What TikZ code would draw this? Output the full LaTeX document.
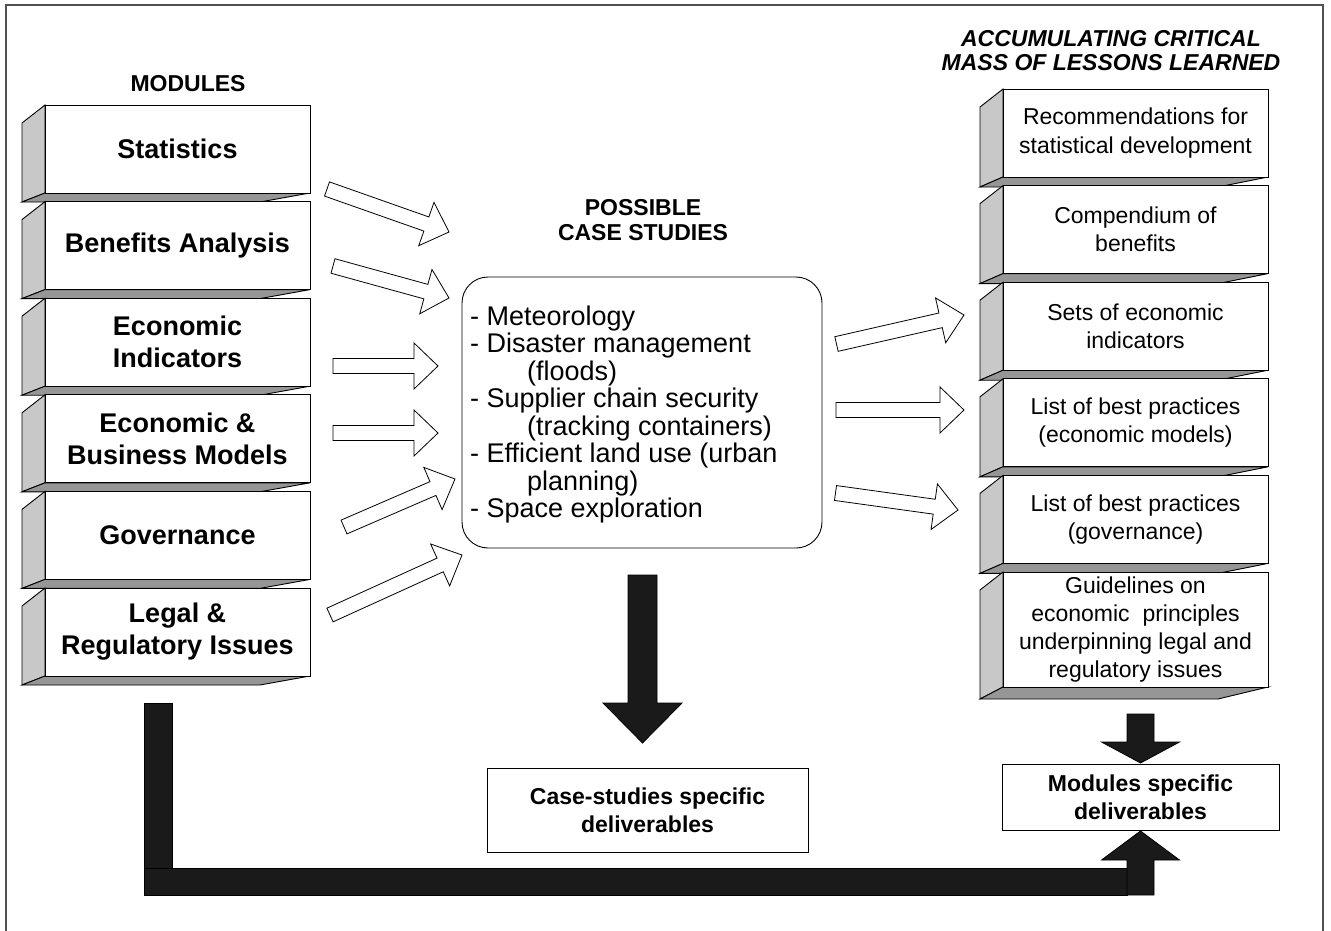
\documentclass[tikz,border=0pt]{standalone}
\usepackage{fontspec}
\setmainfont{Liberation Sans}
\usetikzlibrary{calc}
\definecolor{sidegray}{RGB}{200,200,200}
\definecolor{botgray}{RGB}{150,150,150}
\definecolor{blk}{RGB}{26,26,26}
\definecolor{framegray}{RGB}{80,80,80}
\tikzset{
 face/.style={draw=black, line width=0.9pt, line join=miter},
 front/.style={draw=black, fill=white, line width=0.9pt, inner sep=0pt, outer sep=0pt, align=center},
 modtext/.style={font=\fontsize{27}{32}\selectfont\bfseries},
 lestext/.style={font=\fontsize{23}{28.3}\selectfont},
 hdr/.style={font=\fontsize{23}{24.5}\selectfont\bfseries, align=center, inner sep=0pt},
 outarrow/.style={draw=black, fill=white, line width=0.8pt, line join=miter},
 blockblack/.style={draw=black, fill=blk, line width=0.8pt, line join=miter},
 casebox/.style={draw=black, fill=white, rounded corners=26pt, line width=0.9pt},
 caseline/.style={anchor=base west, inner sep=0pt, font=\fontsize{27}{27.5}\selectfont},
 delbox/.style={draw=black, fill=white, line width=0.9pt, align=center, font=\fontsize{23}{28}\selectfont\bfseries, inner sep=0pt},
}
% name, x1, y1, x2, y2, bottom depth, text style, text
\newcommand\tdbox[8]{%
  \pgfmathsetmacro\bxw{#4-#2}\pgfmathsetmacro\bxh{#5-#3}%
  \pgfmathsetmacro\bxc{(#2+#4)/2}\pgfmathsetmacro\byc{(#3+#5)/2}%
  \draw[face, fill=sidegray] (#2,#3) -- (#2-23,#3+18) -- (#2-23,#5+#6) -- (#2,#5) -- cycle;
  \draw[face, fill=botgray] (#2,#5) -- (#4,#5) -- (#4-50,#5+#6) -- (#2-23,#5+#6) -- cycle;
  \node[front, #7, minimum width={\bxw pt}, minimum height={\bxh pt}] (#1) at (\bxc,\byc) {#8};
}
% outline block arrow from coordinate #1 to coordinate #2
\newcommand\outarrow[2]{%
  \coordinate (hb) at ($(#2)!24pt!(#1)$);
  \draw[outarrow] ($(#1)!7.5pt!90:(#2)$) -- ($(hb)!7.5pt!90:(#2)$) -- ($(hb)!23pt!90:(#2)$) -- (#2)
     -- ($(hb)!23pt!-90:(#2)$) -- ($(hb)!7.5pt!-90:(#2)$) -- ($(#1)!7.5pt!-90:(#2)$) -- cycle;
}
\begin{document}
\begin{tikzpicture}[x=1pt,y=-1pt]
\useasboundingbox (0,0) rectangle (1331,931);
\fill[white] (0,0) rectangle (1331,931);
\draw[framegray, line width=1.3pt] (6,931) -- (6,5) -- (1323,5) -- (1323,931);

% headers
\node[hdr] (hmod) at (188,84) {MODULES};
\node[hdr] (hcase) at (643,220) {POSSIBLE\\CASE STUDIES};
\node[hdr, font=\fontsize{23}{24.5}\selectfont\bfseries\itshape] (hacc) at (1111,50.75) {ACCUMULATING CRITICAL\\MASS OF LESSONS LEARNED};

% left modules
\tdbox{stat}{45}{105}{310}{193}{9}{modtext}{Statistics}
\tdbox{ben}{45}{201.6}{310}{289.6}{9}{modtext}{Benefits Analysis}
\tdbox{eci}{45}{298.2}{310}{386.2}{9}{modtext}{Economic\\Indicators}
\tdbox{ebm}{45}{394.8}{310}{482.8}{9}{modtext}{Economic \&\\Business Models}
\tdbox{gov}{45}{491.4}{310}{579.4}{9}{modtext}{Governance}
\tdbox{leg}{45}{588}{310}{676}{9}{modtext}{Legal \&\\Regulatory Issues}

% right lessons
\tdbox{rec}{1003}{89}{1268}{177}{10}{lestext}{Recommendations for\\statistical development}
\tdbox{comp}{1003}{185.6}{1268}{273.6}{10}{lestext}{Compendium of\\benefits}
\tdbox{sets}{1003}{282.2}{1268}{370.2}{10}{lestext}{Sets of economic\\indicators}
\tdbox{bpe}{1003}{378.8}{1268}{466.8}{10}{lestext}{List of best practices\\(economic models)}
\tdbox{bpg}{1003}{475.4}{1268}{563.4}{10}{lestext}{List of best practices\\(governance)}
\tdbox{guide}{1003}{572}{1268}{687}{12}{lestext}{Guidelines on\\economic\ \ principles\\underpinning legal and\\regulatory issues}

% case studies box
\node[casebox, minimum width=360pt, minimum height=271pt] (cs) at (642,412.5) {};
\node[caseline] (c1) at (470,325) {- Meteorology};
\node[caseline] (c2) at (470,352.5) {- Disaster management};
\node[caseline] (c3) at (527,380) {(floods)};
\node[caseline] (c4) at (470,407.5) {- Supplier chain security};
\node[caseline] (c5) at (527,435) {(tracking containers)};
\node[caseline] (c6) at (470,462.5) {- Efficient land use (urban};
\node[caseline] (c7) at (527,490) {planning)};
\node[caseline] (c8) at (470,517.5) {- Space exploration};

% deliverables
\node[delbox, minimum width=321pt, minimum height=84pt] (del1) at (647.5,810) {Case-studies specific\\deliverables};
\node[delbox, minimum width=277pt, minimum height=66pt] (del2) at (1140.5,797) {Modules specific\\deliverables};

% outline arrows: modules -> case studies
\coordinate (a1s) at (327,189);   \coordinate (a1e) at (449,232);
\coordinate (a2s) at (333,266);   \coordinate (a2e) at (449,298);
\coordinate (a3s) at (333,366);   \coordinate (a3e) at (438,366);
\coordinate (a4s) at (333,433);   \coordinate (a4e) at (438,433);
\coordinate (a5s) at (344,527);   \coordinate (a5e) at (455,479);
\coordinate (a6s) at (330,615);   \coordinate (a6e) at (462,555);
\outarrow{a1s}{a1e}
\outarrow{a2s}{a2e}
\outarrow{a3s}{a3e}
\outarrow{a4s}{a4e}
\outarrow{a5s}{a5e}
\outarrow{a6s}{a6e}
% case studies -> lessons
\coordinate (b1s) at (836.5,344); \coordinate (b1e) at (964,315);
\coordinate (b2s) at (836,410);   \coordinate (b2e) at (964,410);
\coordinate (b3s) at (835.5,493); \coordinate (b3e) at (958,510);
\outarrow{b1s}{b1e}
\outarrow{b2s}{b2e}
\outarrow{b3s}{b3e}

% black arrows
\coordinate (cdA) at (642.5,575); \coordinate (cdB) at (642.5,743);
\draw[blockblack] ($(cdA)+(-14.5,0)$) -- ($(cdA)+(14.5,0)$) -- ($(cdB)+(14.5,-40)$) -- ($(cdB)+(39.5,-40)$)
   -- (cdB) -- ($(cdB)+(-39.5,-40)$) -- ($(cdB)+(-14.5,-40)$) -- cycle;
\coordinate (rdA) at (1140.5,714); \coordinate (rdB) at (1140.5,763);
\draw[blockblack] ($(rdA)+(-13.5,0)$) -- ($(rdA)+(13.5,0)$) -- ($(rdB)+(13.5,-21)$) -- ($(rdB)+(39,-21)$)
   -- (rdB) -- ($(rdB)+(-39,-21)$) -- ($(rdB)+(-13.5,-21)$) -- cycle;
% L-shaped return path
\coordinate (lv1) at (144,703); \coordinate (lv2) at (172,868);
\coordinate (lh1) at (144,868); \coordinate (lh2) at (1127,895);
\draw[blockblack] (lv1) rectangle (lv2);
\draw[blockblack] (lh1) rectangle (lh2);
\coordinate (upA) at (1140.5,895); \coordinate (upB) at (1140.5,831);
\draw[blockblack] ($(upA)+(-13.5,0)$) -- ($(upA)+(13.5,0)$) -- ($(upB)+(13.5,29)$) -- ($(upB)+(39,29)$)
   -- (upB) -- ($(upB)+(-39,29)$) -- ($(upB)+(-13.5,29)$) -- cycle;
\end{tikzpicture}
\end{document}
